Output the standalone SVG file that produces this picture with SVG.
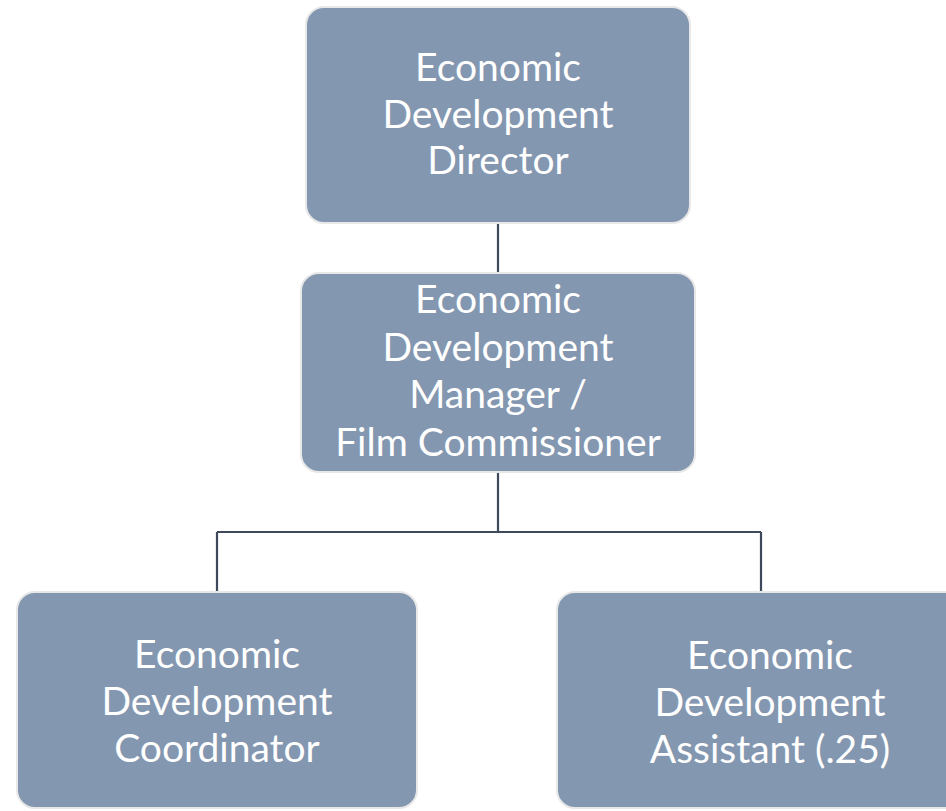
<svg xmlns="http://www.w3.org/2000/svg" width="946" height="811" viewBox="0 0 946 811">
<style>
.box{fill:#8497B0;stroke:#E8E8E8;stroke-width:2}
.t{font-family:Lato,"Open Sans",sans-serif;font-size:39px;fill:#FFFFFF;text-anchor:middle}
.c{fill:none;stroke:#3E4A5C;stroke-width:2.2}
</style>
<rect width="946" height="811" fill="#FFFFFF"/>
<g id="connectors">
<path class="c" d="M498 223V273"/>
<path class="c" d="M498 472V532M217 532H761M217 532V592M761 532V592"/>
</g>
<g id="director">
<rect class="box" x="306" y="7" width="384" height="216" rx="18"/>
<text class="t" x="498" y="81">Economic</text>
<text class="t" x="498" y="128">Development</text>
<text class="t" x="498" y="174">Director</text>
</g>
<g id="manager">
<rect class="box" x="301" y="273" width="394" height="199" rx="18"/>
<text class="t" x="498" y="313">Economic</text>
<text class="t" x="498" y="361">Development</text>
<text class="t" x="498" y="408">Manager /</text>
<text class="t" x="498" y="456">Film Commissioner</text>
</g>
<g id="coordinator">
<rect class="box" x="17" y="592" width="400" height="216" rx="18"/>
<text class="t" x="217" y="668">Economic</text>
<text class="t" x="217" y="715">Development</text>
<text class="t" x="217" y="762">Coordinator</text>
</g>
<g id="assistant">
<rect class="box" x="557" y="592" width="410" height="216" rx="18"/>
<text class="t" x="770" y="669">Economic</text>
<text class="t" x="770" y="716">Development</text>
<text class="t" x="770" y="763">Assistant (.25)</text>
</g>
</svg>
